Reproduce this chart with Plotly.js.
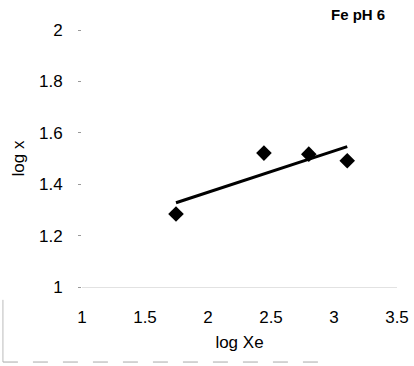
<!DOCTYPE html>
<html>
<head>
<meta charset="utf-8">
<script src="https://cdn.plot.ly/plotly-3.0.1.min.js"></script>
<style>html,body{margin:0;padding:0;background:#fff;}#chart{width:414px;height:366px;}</style>
</head>
<body>
<div id="chart"></div>
<script>
const logXe = [1.746, 2.444, 2.80, 3.105];
const logX = [1.284, 1.521, 1.517, 1.491];
const trendXe = [1.746, 3.105];
const trendX = [1.328, 1.546];
const xTicks = [1, 1.5, 2, 2.5, 3, 3.5];
const yTicks = [1, 1.2, 1.4, 1.6, 1.8, 2];

const font = {family: 'Liberation Sans, Arial, sans-serif', color: '#000'};

const data = [
  {x: trendXe, y: trendX, mode: 'lines', line: {color: '#000', width: 3}, showlegend: false, hoverinfo: 'skip'},
  {x: logXe, y: logX, mode: 'markers', marker: {symbol: 'diamond', size: 12, color: '#000'}, showlegend: false}
];

const layout = {
  width: 414, height: 366,
  margin: {l: 82, r: 17, t: 30, b: 79},
  paper_bgcolor: '#fff', plot_bgcolor: '#fff',
  font: Object.assign({size: 17}, font),
  annotations: [{text: 'Fe pH 6', xref: 'paper', yref: 'paper', x: 0.968, y: 1.0, yshift: 26, xanchor: 'right', yanchor: 'top', showarrow: false, font: Object.assign({size: 15, weight: 'bold'}, font)}],
  xaxis: {
    range: [1, 3.5], tickvals: xTicks, ticktext: xTicks.map(String),
    showgrid: false, zeroline: false, showline: true, linecolor: '#e2e2e2', linewidth: 1,
    ticks: '', ticklabelstandoff: 15, tickfont: Object.assign({size: 17}, font),
    title: {text: 'log Xe', font: Object.assign({size: 17}, font), standoff: 9}
  },
  yaxis: {
    range: [1, 2], tickvals: yTicks, ticktext: yTicks.map(v => String(v)),
    showgrid: false, zeroline: false, showline: false,
    ticks: 'outside', ticklen: 3, tickcolor: '#999', ticklabelstandoff: 12, tickfont: Object.assign({size: 17}, font),
    title: {text: 'log x', font: Object.assign({size: 17}, font), standoff: 10}
  },
  shapes: [
    {type: 'line', xref: 'paper', yref: 'paper', x0: -0.251, x1: -0.251, y0: -0.05, y1: -0.292, line: {color: '#bbb', width: 1}},
    {type: 'line', xref: 'paper', yref: 'paper', x0: -0.251, x1: 0.79, y0: -0.292, y1: -0.292, line: {color: '#aaa', width: 1, dash: 'longdash'}}
  ]
};

Plotly.newPlot('chart', data, layout, {displayModeBar: false, staticPlot: true});
</script>
</body>
</html>
